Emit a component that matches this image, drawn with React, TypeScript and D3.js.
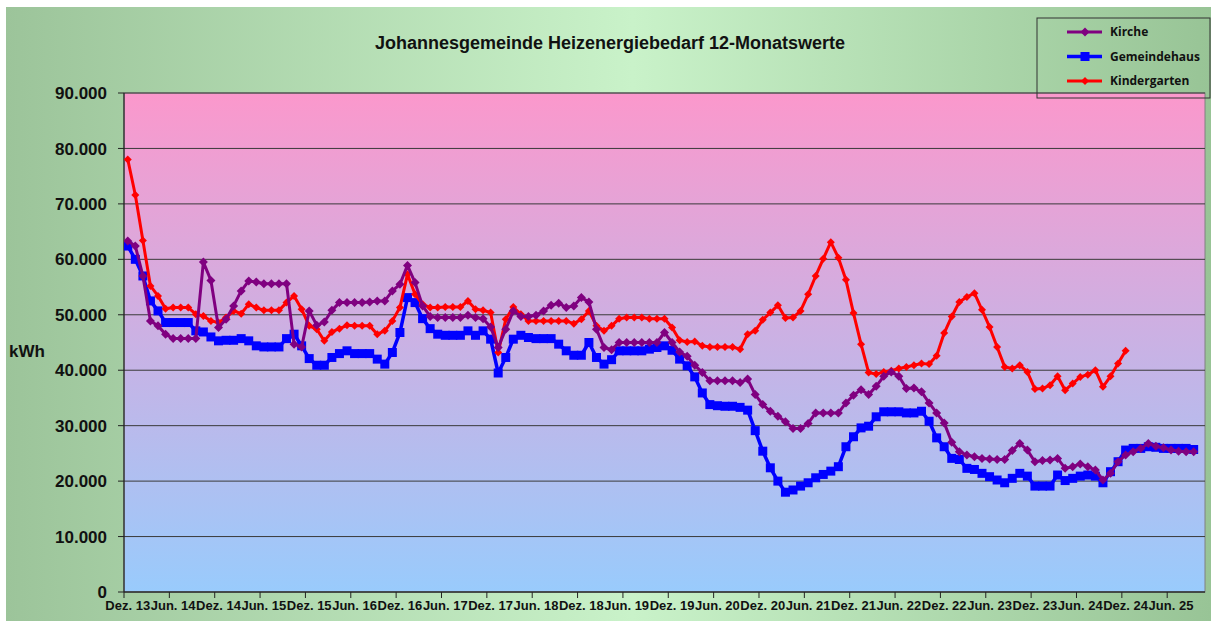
import * as d3 from "d3";

const WIDTH = 1213;
const HEIGHT = 623;
const PLOT = { left: 124, right: 1205, top: 93, bottom: 592 };

// category slots on the x axis: monthly, Dez. 13 onwards
const MONTH_COUNT = 143;
const LABEL_STEP = 6;
const X_LABELS = [
  "Dez. 13", "Jun. 14", "Dez. 14", "Jun. 15", "Dez. 15", "Jun. 16",
  "Dez. 16", "Jun. 17", "Dez. 17", "Jun. 18", "Dez. 18", "Jun. 19",
  "Dez. 19", "Jun. 20", "Dez. 20", "Jun. 21", "Dez. 21", "Jun. 22",
  "Dez. 22", "Jun. 23", "Dez. 23", "Jun. 24", "Dez. 24", "Jun. 25",
];
const Y_MAX = 90000;

// 12-month rolling values in kWh
const KIRCHE = [
  63300, 62400, 57000, 48900, 48000, 46500, 45700, 45700, 45700, 45700,
  59500, 56200, 47700, 49200, 51600, 54300, 56100, 55900, 55600, 55600,
  55600, 55600, 44700, 44200, 50700, 48100, 48700, 50800, 52200, 52200,
  52200, 52200, 52300, 52500, 52500, 54300, 55500, 58900, 55800, 51600,
  49700, 49500, 49500, 49500, 49500, 49900, 49500, 49300, 47800, 44100,
  47400, 50700, 49700, 49700, 49900, 50700, 51700, 52100, 51300, 51600,
  53100, 52300, 47400, 44100, 43700, 45000, 45000, 45000, 45000, 45000,
  45000, 46800, 45000, 43300, 42500, 40900, 39600, 38100, 38100, 38100,
  38100, 37800, 38400, 35600, 33800, 32600, 31700, 30700, 29500, 29500,
  30400, 32300, 32300, 32300, 32300, 34100, 35500, 36500, 35600, 37100,
  38900, 39700, 38900, 36700, 36800, 36100, 34100, 32300, 30500, 27000,
  25300, 24700, 24400, 24100, 24000, 23900, 23900, 25500, 26800, 25600,
  23500, 23700, 23800, 24100, 22300, 22600, 23100, 22600, 22000, 20200,
  21400, 23500, 24700, 25300, 25900, 26800, 26300, 26000, 25600, 25400,
  25300, 25300,
];

const GEMEINDEHAUS = [
  62400, 60000, 57000, 52500, 50700, 48600, 48600, 48600, 48600, 47100,
  46900, 46000, 45300, 45400, 45400, 45700, 45300, 44400, 44200, 44200,
  44200, 45700, 46500, 44400, 42100, 40900, 40900, 42300, 43000, 43500,
  43000, 43000, 43000, 42000, 41100, 43200, 46800, 53100, 52200, 49300,
  47500, 46500, 46300, 46300, 46300, 47100, 46300, 47100, 45600, 39500,
  42300, 45600, 46300, 45900, 45700, 45700, 45700, 44700, 43500, 42700,
  42700, 45000, 42300, 41100, 41900, 43500, 43500, 43500, 43500, 43800,
  44100, 44400, 43600, 42000, 40800, 38800, 35900, 33800, 33600, 33500,
  33500, 33300, 32800, 29100, 25400, 22400, 20000, 18000, 18400, 19100,
  19700, 20600, 21200, 21800, 22600, 26200, 28000, 29600, 29900, 31600,
  32500, 32500, 32500, 32300, 32300, 32600, 30800, 27800, 26200, 24100,
  23900, 22300, 22100, 21400, 20800, 20200, 19700, 20500, 21400, 20900,
  19100, 19100, 19100, 21100, 20100, 20500, 20900, 21100, 20900, 19700,
  21700, 23500, 25600, 25900, 25900, 26200, 26100, 25900, 25900, 25900,
  25900, 25700,
];

const KINDERGARTEN = [
  78000, 71600, 63400, 55200, 53400, 51100, 51300, 51300, 51300, 50100,
  49800, 48900, 48600, 49500, 50700, 50200, 51900, 51300, 50800, 50800,
  50800, 52200, 53400, 51000, 48000, 47400, 45300, 46900, 47500, 48100,
  48000, 48000, 48000, 46500, 47100, 48900, 51300, 57300, 53700, 51900,
  51300, 51300, 51400, 51400, 51400, 52500, 51000, 50800, 50400, 43200,
  49200, 51400, 50100, 48900, 48900, 48900, 48900, 48900, 48900, 48400,
  49200, 50700, 48000, 47100, 48000, 49300, 49500, 49500, 49500, 49300,
  49300, 49300, 47700, 45400, 45100, 45200, 44400, 44200, 44200, 44200,
  44200, 43800, 46500, 47100, 49100, 50400, 51700, 49400, 49500, 50700,
  53700, 57000, 60100, 63100, 60300, 56300, 50300, 44700, 39600, 39300,
  39700, 39900, 40300, 40600, 40900, 41200, 41100, 42600, 46700, 49700,
  52300, 53200, 53900, 50900, 47800, 44200, 40600, 40300, 40900, 39700,
  36600, 36700, 37300, 38900, 36400, 37600, 38800, 39200, 40000, 37000,
  38900, 41200, 43500,
];

// drawing order: blue first, purple on top
const SERIES = [
  { name: "Gemeindehaus", values: GEMEINDEHAUS, color: "#0000ff", marker: "square", r: 4.5, width: 3.5 },
  { name: "Kindergarten", values: KINDERGARTEN, color: "#ff0000", marker: "diamond", r: 4, width: 3 },
  { name: "Kirche", values: KIRCHE, color: "#800080", marker: "diamond", r: 4.5, width: 3 },
];
const LEGEND_ORDER = ["Kirche", "Gemeindehaus", "Kindergarten"];

const FONT = "'Liberation Sans', Arial, sans-serif";

const de = d3.formatLocale({ decimal: ",", thousands: ".", grouping: [3], currency: ["", " €"] });
const fmt = de.format(",");

const markerPath = (type: string, r: number) =>
  type === "square"
    ? `M${-r},${-r}H${r}V${r}H${-r}Z`
    : `M0,${-r}L${r},0L0,${r}L${-r},0Z`;

const App = () => {
  const xScale = d3
    .scaleBand<number>()
    .domain(d3.range(MONTH_COUNT))
    .range([PLOT.left, PLOT.right])
    .padding(0);
  const cx = (i: number) => (xScale(i) || 0) + xScale.bandwidth() / 2;

  const yScale = d3.scaleLinear().domain([0, Y_MAX]).range([PLOT.bottom, PLOT.top]);
  const yTicks = yScale.ticks(9);

  const lineBuilder = d3
    .line<number>()
    .x((_, i) => cx(i))
    .y((d) => yScale(d));

  const plotW = PLOT.right - PLOT.left;
  const plotH = PLOT.bottom - PLOT.top;

  return (
    <svg
      width={WIDTH}
      height={HEIGHT}
      style={{ position: "absolute", left: 0, top: 0, background: "#fff" }}
    >
      <defs>
        <linearGradient id="bgGrad" x1="0%" y1="0%" x2="100%" y2="0%">
          <stop offset="0%" stopColor="#9cc49a" />
          <stop offset="52%" stopColor="#c9f2c9" />
          <stop offset="100%" stopColor="#98c496" />
        </linearGradient>
        <linearGradient id="plotGrad" x1="0%" y1="0%" x2="0%" y2="100%">
          <stop offset="0%" stopColor="#fb98cc" />
          <stop offset="100%" stopColor="#99cbfc" />
        </linearGradient>
        <clipPath id="plotClip">
          <rect x={PLOT.left} y={PLOT.top - 10} width={plotW} height={plotH + 20} />
        </clipPath>
      </defs>

      <rect x={6} y={7} width={1205} height={614} fill="url(#bgGrad)" />

      {/* plot area */}
      <rect x={PLOT.left} y={PLOT.top} width={plotW} height={plotH} fill="url(#plotGrad)" stroke="#808080" strokeWidth={1} />

      {/* gridlines */}
      {yTicks.map((t) => (
        <line key={t} x1={PLOT.left} x2={PLOT.right} y1={yScale(t)} y2={yScale(t)} stroke="#3a3a3a" strokeWidth={1} />
      ))}

      {/* y axis */}
      <line x1={PLOT.left} x2={PLOT.left} y1={PLOT.top} y2={PLOT.bottom} stroke="#222" strokeWidth={1.2} />
      {yTicks.map((t) => (
        <g key={t}>
          <line x1={PLOT.left - 6} x2={PLOT.left} y1={yScale(t)} y2={yScale(t)} stroke="#222" />
          <text
            x={107}
            y={yScale(t)}
            dy="0.36em"
            textAnchor="end"
            fontFamily={FONT}
            fontWeight="bold"
            fontSize={17}
            fill="#111"
          >
            {fmt(t)}
          </text>
        </g>
      ))}
      <text x={9} y={357} fontFamily={FONT} fontWeight="bold" fontSize={17} fill="#111">
        kWh
      </text>

      {/* x axis */}
      <line x1={PLOT.left} x2={PLOT.right} y1={PLOT.bottom} y2={PLOT.bottom} stroke="#222" strokeWidth={1.2} />
      {X_LABELS.map((lab, k) => {
        const i = k * LABEL_STEP;
        const tx = xScale(i) || 0;
        return (
          <g key={lab}>
            <line x1={tx} x2={tx} y1={PLOT.bottom} y2={PLOT.bottom + 6} stroke="#222" />
            <text
              x={cx(i)}
              y={610}
              textAnchor="middle"
              fontFamily={FONT}
              fontWeight="bold"
              fontSize={13}
              fill="#111"
            >
              {lab}
            </text>
          </g>
        );
      })}

      {/* series */}
      <g clipPath="url(#plotClip)">
        {SERIES.map((s) => (
          <g key={s.name}>
            <path d={lineBuilder(s.values) || ""} fill="none" stroke={s.color} strokeWidth={s.width} strokeLinejoin="round" />
            {s.values.map((v, i) => (
              <path key={i} d={markerPath(s.marker, s.r)} transform={`translate(${cx(i)},${yScale(v)})`} fill={s.color} />
            ))}
          </g>
        ))}
      </g>

      {/* title */}
      <text x={610} y={49} textAnchor="middle" fontFamily={FONT} fontWeight="bold" fontSize={18} fill="#111">
        Johannesgemeinde Heizenergiebedarf 12-Monatswerte
      </text>

      {/* legend */}
      <rect x={1037} y={18} width={173} height={80} fill="none" stroke="#333" strokeWidth={1} />
      {LEGEND_ORDER.map((name, k) => {
        const s = SERIES.find((d) => d.name === name)!;
        const ly = 32 + k * 24.5;
        return (
          <g key={name}>
            <line x1={1067} x2={1102} y1={ly} y2={ly} stroke={s.color} strokeWidth={s.width} />
            <path d={markerPath(s.marker, s.r)} transform={`translate(1085,${ly})`} fill={s.color} />
            <text x={1110} y={ly} dy="0.35em" fontFamily="'Open Sans', sans-serif" fontWeight="bold" fontSize={12} fill="#111">
              {name}
            </text>
          </g>
        );
      })}
    </svg>
  );
};

export default App;
